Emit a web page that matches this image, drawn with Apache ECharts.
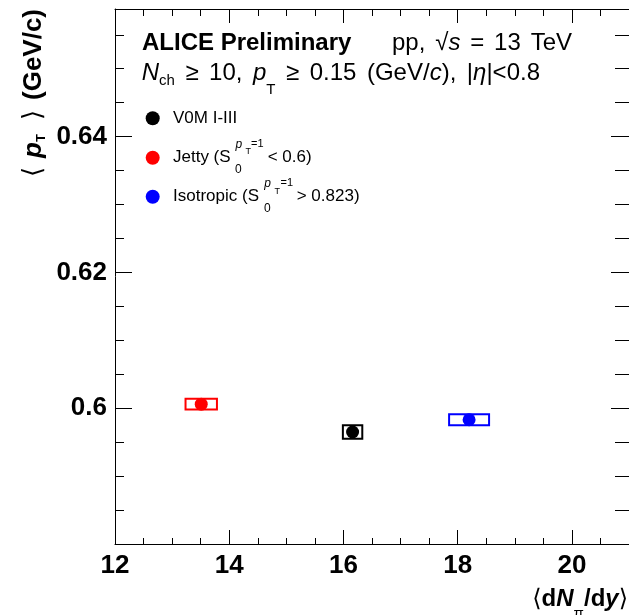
<!DOCTYPE html>
<html>
<head>
<meta charset="utf-8">
<script src="https://cdn.jsdelivr.net/npm/echarts@6/dist/echarts.min.js"></script>
<style>
  html, body { margin: 0; padding: 0; background: #fff; }
  #chart { width: 629px; height: 615px; }
</style>
</head>
<body>
<div id="chart"></div>
<script>
  // 数据 - 从图上读出来的
  const groupNames = ['V0M I-III', 'Jetty', 'Isotropic'];
  const groupColors = ['#000000', '#ff0000', '#0000ff'];
  const dNdy = [16.16, 13.51, 18.2];          // <dN/dy>
  const meanPt = [0.5965, 0.6006, 0.5983];    // <pT>
  const sysX = [0.17, 0.275, 0.35];           // 系统误差框 半宽
  const sysY = [0.001, 0.0008, 0.0008];       // 系统误差框 半高
  const xTickLabels = [12, 14, 16, 18, 20];
  const yTickLabels = [0.6, 0.62, 0.64];

  const FONT = '"Liberation Sans", Arial, Helvetica, sans-serif';
  const ANG_FONT = '"DejaVu Sans", sans-serif';
  const chart = echarts.init(document.getElementById('chart'));

  // 文字样式小工具
  const st = (size, weight, style, extra) => Object.assign({
    fontSize: size, fontFamily: FONT, fontWeight: weight || 'normal',
    fontStyle: style || 'normal', fill: '#000'
  }, extra || {});
  const txt = (x, y, text, style, more) => Object.assign({
    type: 'text', x: x, y: y, silent: true,
    style: Object.assign({ text: text, align: 'left', verticalAlign: 'middle' }, style)
  }, more || {});
  const ROT = { rotation: Math.PI / 2 };

  // 量文字宽度, 用来排一行带上下标的字
  const measureCtx = document.createElement('canvas').getContext('2d');
  const textWidth = (t, s) => {
    measureCtx.font = s.fontStyle + ' ' + s.fontWeight + ' ' + s.fontSize + 'px ' + s.fontFamily;
    return measureCtx.measureText(t).width;
  };
  // pieces: {t, s, dy} 或 {gap: true, s}; 空格平均拉开, 让整行正好从 x0 排到 x1
  function layoutLine(x0, x1, y, pieces) {
    const gaps = pieces.filter(p => p.gap).length;
    let natural = 0;
    pieces.forEach(p => { natural += textWidth(p.gap ? ' ' : p.t, p.s); });
    const extra = gaps ? (x1 - x0 - natural) / gaps : 0;
    let x = x0;
    const out = [];
    pieces.forEach(p => {
      if (p.gap) { x += textWidth(' ', p.s) + extra; return; }
      out.push(txt(x, y + (p.dy || 0), p.t, p.s));
      x += textWidth(p.t, p.s);
    });
    return out;
  }

  const axisCommon = (labelShow) => ({
    type: 'value',
    axisLine: { show: true, onZero: false, lineStyle: { color: '#000', width: 1 } },
    splitLine: { show: false },
    minorSplitLine: { show: false },
    axisLabel: { show: labelShow }
  });

  const xAxisBottom = Object.assign(axisCommon(true), {
    position: 'bottom', min: 12, max: 21, interval: 2,
    axisTick: { show: true, inside: true, length: 14, lineStyle: { color: '#000' } },
    minorTick: { show: true, splitNumber: 4, length: 6, lineStyle: { color: '#000' } },
    axisLabel: {
      show: true, margin: 9, fontSize: 26, fontWeight: 'bold', color: '#000', fontFamily: FONT,
      showMinLabel: true, showMaxLabel: false,
      formatter: v => xTickLabels.includes(v) ? String(v) : ''
    }
  });
  const xAxisTop = Object.assign(axisCommon(false), {
    position: 'top', min: 12, max: 21, interval: 2,
    axisTick: { show: true, inside: true, length: 14, lineStyle: { color: '#000' } },
    minorTick: { show: true, splitNumber: 4, length: 7, lineStyle: { color: '#000' } }
  });
  const yAxisLeft = Object.assign(axisCommon(true), {
    position: 'left', min: 0.58, max: 0.6588, interval: 0.02,
    axisTick: { show: true, inside: true, length: 17, lineStyle: { color: '#000' } },
    minorTick: { show: true, splitNumber: 4, length: 9, lineStyle: { color: '#000' } },
    axisLabel: {
      show: true, margin: 8, fontSize: 26, fontWeight: 'bold', color: '#000', fontFamily: FONT,
      showMinLabel: false, showMaxLabel: false,
      formatter: v => {
        const t = yTickLabels.find(t => Math.abs(t - v) < 1e-9);
        return t === undefined ? '' : String(t);
      }
    }
  });
  const yAxisRight = Object.assign(axisCommon(false), {
    position: 'right', min: 0.58, max: 0.6588, interval: 0.02,
    axisTick: { show: true, inside: true, length: 18, lineStyle: { color: '#000' } },
    minorTick: { show: true, splitNumber: 4, length: 14, lineStyle: { color: '#000' } }
  });

  // 误差框 + 数据点
  const boxData = dNdy.map((x, i) => [x, meanPt[i], sysX[i], sysY[i]]);
  const pointSeries = groupNames.map((name, i) => ({
    name: name, type: 'scatter', xAxisIndex: 0, yAxisIndex: 0, z: 5,
    symbol: 'circle', symbolSize: 13,
    itemStyle: { color: groupColors[i], opacity: 1 },
    data: [[dNdy[i], meanPt[i]]]
  }));

  // 头部两行文字
  const R = st(24), I = st(24, 'normal', 'italic'), S = st(15);
  const header1 = layoutLine(392, 572, 43.5, [
    { t: 'pp,', s: R }, { gap: true, s: R },
    { t: '√', s: R }, { t: 's', s: I }, { gap: true, s: R },
    { t: '=', s: R }, { gap: true, s: R },
    { t: '13', s: R }, { gap: true, s: R }, { t: 'TeV', s: R }
  ]);
  const header2 = layoutLine(141.7, 540, 73, [
    { t: 'N', s: I }, { t: 'ch', s: S, dy: 7.5 }, { gap: true, s: R },
    { t: '≥', s: R }, { gap: true, s: R }, { t: '10,', s: R }, { gap: true, s: R },
    { t: 'p', s: I }, { t: 'T', s: S, dy: 17 }, { gap: true, s: R },
    { t: '≥', s: R }, { gap: true, s: R }, { t: '0.15', s: R }, { gap: true, s: R },
    { t: '(GeV/', s: R }, { t: 'c', s: I }, { t: '),', s: R }, { gap: true, s: R },
    { t: '|', s: R }, { t: 'η', s: I }, { t: '|<0.8', s: R }
  ]);

  const graphics = [
    txt(142, 43.5, 'ALICE Preliminary', st(24, 'bold'))
  ].concat(header1, header2, [
    // 图例
    { type: 'circle', silent: true, shape: { cx: 152.7, cy: 118.3, r: 7 }, style: { fill: groupColors[0] } },
    { type: 'circle', silent: true, shape: { cx: 152.7, cy: 157.7, r: 7 }, style: { fill: groupColors[1] } },
    { type: 'circle', silent: true, shape: { cx: 152.7, cy: 196.7, r: 7 }, style: { fill: groupColors[2] } },
    txt(173, 118.3, groupNames[0], st(17)),
    txt(173, 157.7, 'Jetty (S', st(17)),
    txt(235.5, 145, 'p', st(12, 'normal', 'italic')),
    txt(245.5, 151.5, 'T', st(9)),
    txt(251, 144, '=1', st(11)),
    txt(235, 170, '0', st(12)),
    txt(267.7, 157.7, '< 0.6)', st(17)),
    txt(173, 196.7, 'Isotropic (S', st(17)),
    txt(264.3, 184, 'p', st(12, 'normal', 'italic')),
    txt(274.5, 191.5, 'T', st(9)),
    txt(280.5, 183.3, '=1', st(11)),
    txt(264, 208.3, '0', st(12)),
    txt(296.7, 196.7, '> 0.823)', st(17)),
    // y 轴标题 (旋转, 从下往上)
    txt(34, 177, '⟨', st(26, 'normal', 'normal', { fontFamily: ANG_FONT }), ROT),
    txt(34, 158, 'p', st(26, 'bold', 'italic'), ROT),
    txt(41, 142, 'T', st(13, 'bold'), ROT),
    txt(34, 120, '⟩', st(26, 'normal', 'normal', { fontFamily: ANG_FONT }), ROT),
    txt(34, 100, '(GeV/c)', st(26, 'bold'), ROT),
    // x 轴标题
    txt(628, 599.5, '{ang|⟨}{b|d}{bi|N}{sub|π}{b|/d}{bi|y}{ang|⟩}', {
      align: 'right', lineHeight: 40,
      rich: {
        ang: st(24, 'normal', 'normal', { fontFamily: ANG_FONT }),
        b: st(24, 'bold'), bi: st(24, 'bold', 'italic'),
        sub: st(15, 'normal', 'normal', { height: 12, verticalAlign: 'bottom' })
      }
    })
  ]);

  const option = {
    animation: false,
    backgroundColor: '#ffffff',
    grid: { left: 115, right: -2, top: 9, bottom: 71, containLabel: false },
    xAxis: [xAxisBottom, xAxisTop],
    yAxis: [yAxisLeft, yAxisRight],
    series: [
      {
        name: 'sys', type: 'custom', xAxisIndex: 0, yAxisIndex: 0, z: 3,
        encode: { x: 0, y: 1 },
        renderItem: (params, api) => {
          const x = api.value(0), y = api.value(1);
          const hx = api.value(2), hy = api.value(3);
          const p1 = api.coord([x - hx, y + hy]);
          const p2 = api.coord([x + hx, y - hy]);
          return {
            type: 'rect',
            shape: { x: p1[0], y: p1[1], width: p2[0] - p1[0], height: p2[1] - p1[1] },
            style: { fill: 'none', stroke: groupColors[params.dataIndex], lineWidth: 2 }
          };
        },
        data: boxData
      }
    ].concat(pointSeries),
    graphic: graphics
  };
  chart.setOption(option);
</script>
</body>
</html>
